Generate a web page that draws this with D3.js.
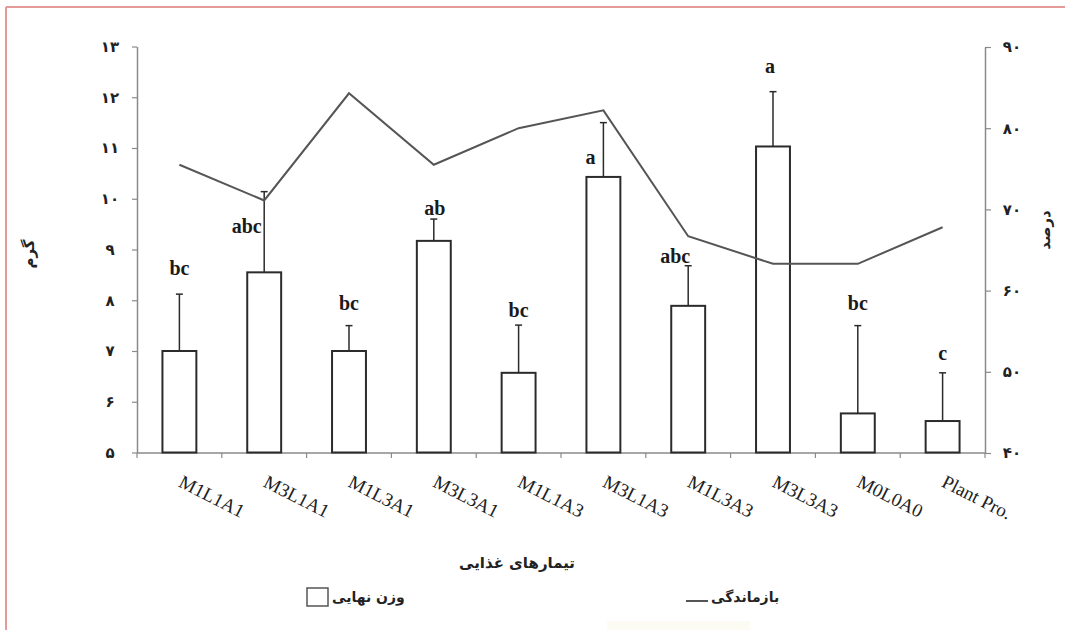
<!DOCTYPE html>
<html>
<head>
<meta charset="utf-8">
<script src="https://cdn.jsdelivr.net/npm/d3@7/dist/d3.min.js"></script>
<style>
  html, body { margin: 0; padding: 0; background: #fff; }
  svg { display: block; }
</style>
</head>
<body>
<svg id="chart" width="1065" height="630"></svg>
<script>
// Treatments on the x axis
const categories = ["M1L1A1", "M3L1A1", "M1L3A1", "M3L3A1", "M1L1A3",
                    "M3L1A3", "M1L3A3", "M3L3A3", "M0L0A0", "Plant Pro."];
// Final weight (g), left axis
const finalWeight = [7.0, 8.55, 7.0, 9.17, 6.57, 10.43, 7.89, 11.03, 5.77, 5.62];
// Upper error of the final weight (g)
const weightError = [1.12, 1.59, 0.5, 0.43, 0.94, 1.07, 0.79, 1.08, 1.73, 0.95];
// Survival (%), right axis
const survival = [75.5, 71.1, 84.3, 75.5, 80.0, 82.2, 66.7, 63.3, 63.3, 67.8];
// Duncan grouping letters
const groupLetters = ["bc", "abc", "bc", "ab", "bc", "a", "abc", "a", "bc", "c"];
// Axis ticks
const leftTicks = [5, 6, 7, 8, 9, 10, 11, 12, 13];
const rightTicks = [40, 50, 60, 70, 80, 90];

// Nudges for the letter labels relative to the error-bar tip [dx, dy]
const letterNudge = [[0, -19], [-17.5, 41], [0, -16], [1, -4], [0, -8],
                     [-13, 41], [-13, -3], [-3, -19], [0, -16], [0, -13]];

const faDigits = "۰۱۲۳۴۵۶۷۸۹";
const toFa = n => String(n).replace(/\d/g, d => faDigits[d]);

const svg = d3.select("#chart");
const faFont = "'DejaVu Sans', sans-serif";
const serif = "'Liberation Serif', 'Times New Roman', serif";

// Page frame
svg.append("line").attr("x1", 6).attr("y1", 7).attr("x2", 1065).attr("y2", 7)
  .attr("stroke", "#e59a9a").attr("stroke-width", 2);
svg.append("line").attr("x1", 6).attr("y1", 7).attr("x2", 6).attr("y2", 630)
  .attr("stroke", "#e59a9a").attr("stroke-width", 2);
svg.append("rect").attr("x", 607).attr("y", 621).attr("width", 143).attr("height", 9)
  .attr("fill", "#fcfcf4");

const plotLeft = 137, plotRight = 985, plotTop = 46.5, plotBottom = 453;

const x = d3.scaleBand().domain(categories).range([plotLeft, plotRight]);
const yL = d3.scaleLinear().domain([5, 13]).range([plotBottom - 0.5, plotTop]);
const yR = d3.scaleLinear().domain([40, 90]).range([plotBottom, plotTop + 0.5]);

const axisColor = "#8a8a8a";

// Left axis
const gL = svg.append("g").attr("transform", `translate(${plotLeft},0)`)
  .call(d3.axisLeft(yL).tickValues(leftTicks).tickSize(5).tickSizeOuter(0)
    .tickFormat(toFa));
gL.select(".domain").attr("stroke", axisColor).attr("stroke-width", 1.5);
gL.selectAll(".tick line").attr("stroke", axisColor).attr("stroke-width", 1.2);
gL.selectAll(".tick text").attr("x", -27).attr("text-anchor", "middle")
  .attr("font-family", faFont).attr("font-size", 15).attr("font-weight", "bold")
  .attr("fill", "#222");

// Right axis
const gR = svg.append("g").attr("transform", `translate(${plotRight},0)`)
  .call(d3.axisRight(yR).tickValues(rightTicks).tickSize(6).tickSizeOuter(0)
    .tickFormat(toFa));
gR.select(".domain").attr("stroke", axisColor).attr("stroke-width", 1.5);
gR.selectAll(".tick line").attr("stroke", axisColor).attr("stroke-width", 1.2);
gR.selectAll(".tick text").attr("x", 27).attr("text-anchor", "middle")
  .attr("font-family", faFont).attr("font-size", 15).attr("font-weight", "bold")
  .attr("fill", "#222");

// Bottom axis with ticks between treatments
svg.append("line").attr("x1", plotLeft).attr("x2", plotRight)
  .attr("y1", plotBottom).attr("y2", plotBottom)
  .attr("stroke", axisColor).attr("stroke-width", 1.5);
const boundaries = categories.map(c => x(c)).concat([plotRight]);
svg.append("g").selectAll("line").data(boundaries).join("line")
  .attr("x1", d => d).attr("x2", d => d).attr("y1", plotBottom).attr("y2", plotBottom + 5)
  .attr("stroke", axisColor).attr("stroke-width", 1.2);

// Category labels, slanted
svg.append("g").selectAll("text").data(categories).join("text")
  .attr("transform", d => `translate(${x(d) + x.bandwidth() / 2 - 2},${plotBottom + 33}) rotate(27)`)
  .attr("font-family", serif).attr("font-size", 19).attr("fill", "#222")
  .text(d => d);

// Bars
const barW = x.bandwidth() * 0.4;
const cx = i => x(categories[i]) + x.bandwidth() / 2;
svg.append("g").selectAll("rect").data(finalWeight).join("rect")
  .attr("x", (d, i) => cx(i) - barW / 2)
  .attr("y", d => yL(d))
  .attr("width", barW)
  .attr("height", d => yL(5) - yL(d))
  .attr("fill", "#fff").attr("stroke", "#2b2b2b").attr("stroke-width", 2);

// Upper error bars
const errG = svg.append("g").attr("stroke", "#2b2b2b").attr("stroke-width", 1.5);
finalWeight.forEach((v, i) => {
  const yTip = yL(v + weightError[i]);
  errG.append("line").attr("x1", cx(i)).attr("x2", cx(i)).attr("y1", yL(v)).attr("y2", yTip);
  errG.append("line").attr("x1", cx(i) - 3.5).attr("x2", cx(i) + 3.5).attr("y1", yTip).attr("y2", yTip);
});

// Grouping letters
svg.append("g").selectAll("text").data(groupLetters).join("text")
  .attr("x", (d, i) => cx(i) + letterNudge[i][0])
  .attr("y", (d, i) => yL(finalWeight[i] + weightError[i]) + letterNudge[i][1])
  .attr("text-anchor", "middle")
  .attr("font-family", serif).attr("font-size", 20).attr("font-weight", "bold")
  .attr("fill", "#1a1a1a")
  .text(d => d);

// Survival line
const line = d3.line().x((d, i) => cx(i)).y(d => yR(d));
svg.append("path").datum(survival).attr("d", line)
  .attr("fill", "none").attr("stroke", "#555").attr("stroke-width", 2)
  .attr("stroke-linejoin", "miter");

// Axis titles
svg.append("text").attr("transform", "translate(34,254) rotate(-90)")
  .attr("text-anchor", "middle").attr("font-family", faFont).attr("font-size", 15)
  .attr("font-weight", "bold").attr("fill", "#222").text("گرم");
svg.append("text").attr("transform", "translate(1050,230) rotate(-90)")
  .attr("text-anchor", "middle").attr("font-family", faFont).attr("font-size", 15)
  .attr("font-weight", "bold").attr("fill", "#222").text("درصد");
svg.append("text").attr("x", 517).attr("y", 568)
  .attr("text-anchor", "middle").attr("font-family", faFont).attr("font-size", 15)
  .attr("font-weight", "bold").attr("fill", "#222").text("تیمارهای غذایی");

// Legend
svg.append("rect").attr("x", 307).attr("y", 588).attr("width", 21).attr("height", 18)
  .attr("fill", "#fff").attr("stroke", "#555").attr("stroke-width", 1.5);
svg.append("text").attr("x", 332).attr("y", 602)
  .attr("font-family", faFont).attr("font-size", 14).attr("font-weight", "bold")
  .attr("fill", "#222").text("وزن نهایی");
svg.append("line").attr("x1", 686).attr("x2", 708).attr("y1", 601).attr("y2", 601)
  .attr("stroke", "#555").attr("stroke-width", 2);
svg.append("text").attr("x", 711).attr("y", 602)
  .attr("font-family", faFont).attr("font-size", 14).attr("font-weight", "bold")
  .attr("fill", "#222").text("بازماندگی");
</script>
</body>
</html>
